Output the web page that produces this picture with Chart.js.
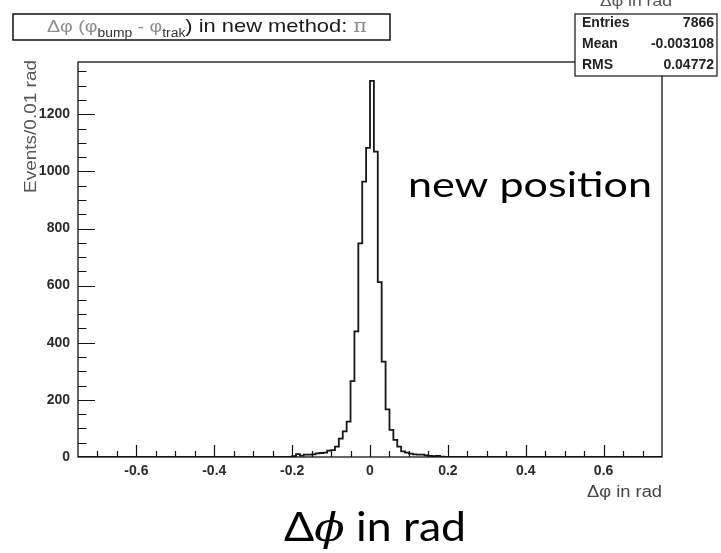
<!DOCTYPE html>
<html>
<head>
<meta charset="utf-8">
<script src="https://cdn.jsdelivr.net/npm/chart.js@4.4.1/dist/chart.umd.min.js"></script>
<style>
  html, body { margin: 0; padding: 0; background: #ffffff; }
  #wrap { width: 721px; height: 553px; position: relative; }
  canvas { display: block; }
</style>
</head>
<body>
<div id="wrap"><canvas id="c" width="721" height="553"></canvas></div>
<script>
// Δφ = φ_bump − φ_trak, 0.01 rad bins; counts start at the bin [-0.20, -0.19)
const binWidth = 0.01;
const firstBinLow = -0.20;
const counts = [3, 10, 5, 8, 8, 9, 13, 14, 15, 22,
                24, 36, 64, 90, 124, 266, 440, 748, 964, 1082,
                1317, 1069, 612, 334, 167, 95, 60, 36, 20, 15,
                12, 9, 8, 8, 6, 4, 3, 4, 1];

// axis ranges
const xRange = [-0.75, 0.75];
const yRange = [0, 1383];

// tick labels
const xTickValues = [-0.6, -0.4, -0.2, 0, 0.2, 0.4, 0.6];
const xTickLabels = ['-0.6', '-0.4', '-0.2', '0', '0.2', '0.4', '0.6'];
const yTickValues = [0, 200, 400, 600, 800, 1000, 1200];
const yTickLabels = ['0', '200', '400', '600', '800', '1000', '1200'];

// statistics box
const statNames = ['Entries', 'Mean', 'RMS'];
const statValues = ['7866', '-0.003108', '0.04772'];

// texts
const histTitle = 'Δφ in rad';
const yTitle = 'Events/0.01 rad';
const xTitle = 'Δφ in rad';
const noteText = 'new position';

// outline points: each bin's lower edge carries its content
const points = [{ x: xRange[0], y: 0 }];
counts.forEach((c, i) => points.push({ x: +(firstBinLow + i * binWidth).toFixed(2), y: c }));
points.push({ x: +(firstBinLow + counts.length * binWidth).toFixed(2), y: 0 });
points.push({ x: xRange[1], y: 0 });

// text helper: draws a string squeezed/stretched horizontally to a given width
function fitText(ctx, text, x, y, font, color, width, align, rotate) {
  ctx.save();
  ctx.font = font;
  ctx.fillStyle = color;
  ctx.textBaseline = 'alphabetic';
  const w = ctx.measureText(text).width;
  const sx = width ? width / w : 1;
  ctx.translate(x, y);
  if (rotate) ctx.rotate(rotate);
  ctx.scale(sx, 1);
  ctx.textAlign = align || 'left';
  ctx.fillText(text, 0, 0);
  ctx.restore();
}

function drawRuns(ctx, runs, x, y, width) {
  ctx.save();
  let total = 0;
  runs.forEach(r => { ctx.font = r.font; r.w = ctx.measureText(r.t).width; total += r.w; });
  const sx = width / total;
  ctx.translate(x, y);
  ctx.scale(sx, 1);
  let cx = 0;
  ctx.textBaseline = 'alphabetic';
  ctx.textAlign = 'left';
  runs.forEach(r => {
    ctx.font = r.font;
    ctx.fillStyle = r.color;
    ctx.fillText(r.t, cx, r.dy || 0);
    cx += r.w;
  });
  ctx.restore();
}

const rootDecor = {
  id: 'rootDecor',
  afterDraw(chart) {
    const { ctx, chartArea: a, scales: { x, y } } = chart;
    ctx.save();

    // frame
    ctx.strokeStyle = '#111';
    ctx.lineWidth = 1.3;
    ctx.strokeRect(a.left, a.top, a.right - a.left, a.bottom - a.top);

    // inward ticks on x axis: every 0.05, long every 0.2
    ctx.lineWidth = 1.2;
    ctx.beginPath();
    for (let k = -14; k <= 14; k++) {
      const px = Math.round(x.getPixelForValue(k * 0.05)) + 0.5;
      const len = (k % 4 === 0) ? 12 : 6;
      ctx.moveTo(px, a.bottom);
      ctx.lineTo(px, a.bottom - len);
    }
    // inward ticks on y axis: every 50, long every 200
    for (let v = 50; v <= 1350; v += 50) {
      const py = Math.round(y.getPixelForValue(v)) + 0.5;
      const len = (v % 200 === 0) ? 17 : 8.5;
      ctx.moveTo(a.left, py);
      ctx.lineTo(a.left + len, py);
    }
    ctx.stroke();

    // axis titles
    fitText(ctx, xTitle, a.right, 497, '16px "Liberation Sans"', '#444', 75, 'right');
    fitText(ctx, yTitle, 36, 60, '16px "Liberation Sans"', '#555', 133, 'right', -Math.PI / 2);

    // title box
    ctx.fillStyle = '#fff';
    ctx.fillRect(13, 14, 377, 26);
    ctx.strokeStyle = '#111';
    ctx.lineWidth = 1.5;
    ctx.strokeRect(13, 14, 377, 26);
    const gray = '#8c8c8c', dark = '#1a1a1a';
    drawRuns(ctx, [
      { t: 'Δφ (φ', font: '17px "Liberation Sans"', color: gray },
      { t: 'bump', font: '12px "Liberation Sans"', color: '#333', dy: 5 },
      { t: ' - φ', font: '17px "Liberation Sans"', color: gray },
      { t: 'trak', font: '12px "Liberation Sans"', color: '#333', dy: 5 },
      { t: ')', font: '19px "Liberation Sans"', color: dark },
      { t: ' in new method: ', font: '19px "Liberation Sans"', color: dark },
      { t: 'π', font: '18px "DejaVu Serif"', color: gray }
    ], 47, 32, 320);

    // statistics box with the histogram title above it
    fitText(ctx, histTitle, 636, 6, '15px "Liberation Sans"', '#555', 72, 'center');
    ctx.fillStyle = '#fff';
    ctx.fillRect(575, 14, 142, 62);
    ctx.strokeStyle = '#111';
    ctx.lineWidth = 1.2;
    ctx.strokeRect(575, 14, 142, 62);
    ctx.font = 'bold 14px "Liberation Sans"';
    ctx.fillStyle = '#222';
    statNames.forEach((n, i) => {
      const by = 27 + i * 21;
      ctx.textAlign = 'left';
      ctx.fillText(n, 582, by);
      ctx.textAlign = 'right';
      ctx.fillText(statValues[i], 714, by);
    });

    // annotations
    fitText(ctx, noteText, 408, 197, '34px Lato', '#000', 244, 'left');
    ctx.restore();

    // big axis caption: Δϕ in rad
    ctx.save();
    const parts = [
      { t: 'Δ', font: '40px Lato' },
      { t: 'ϕ', font: 'italic 40px "DejaVu Serif"' },
      { t: ' in rad', font: '40px Lato' }
    ];
    drawRuns(ctx, parts.map(p => ({ ...p, color: '#000' })), 284, 541, 182);
    ctx.restore();
  }
};

new Chart(document.getElementById('c'), {
  type: 'line',
  data: {
    datasets: [{
      data: points,
      stepped: 'before',
      borderColor: '#161616',
      borderWidth: 1.8,
      pointRadius: 0,
      fill: false,
      tension: 0
    }]
  },
  options: {
    responsive: false,
    animation: false,
    devicePixelRatio: 1,
    layout: { padding: { top: 62, right: 59, left: 0, bottom: 0 } },
    plugins: { legend: { display: false }, tooltip: { enabled: false }, title: { display: false } },
    scales: {
      x: {
        type: 'linear',
        min: xRange[0],
        max: xRange[1],
        bounds: 'data',
        grid: { display: false, drawTicks: false },
        border: { display: false },
        afterBuildTicks: s => { s.ticks = xTickValues.map(v => ({ value: v })); },
        afterFit: s => { s.height = 96; },
        ticks: {
          autoSkip: false, maxRotation: 0, minRotation: 0, padding: 6,
          font: { family: 'Liberation Sans', size: 14, weight: 'bold' },
          color: '#2a2a2a',
          callback: (v, i) => xTickLabels[i]
        }
      },
      y: {
        type: 'linear',
        min: yRange[0],
        max: yRange[1],
        bounds: 'data',
        grid: { display: false, drawTicks: false },
        border: { display: false },
        afterBuildTicks: s => { s.ticks = yTickValues.map(v => ({ value: v })); },
        afterFit: s => { s.width = 78; },
        ticks: {
          autoSkip: false, padding: 8,
          font: { family: 'Liberation Sans', size: 14, weight: 'bold' },
          color: '#2a2a2a',
          callback: (v, i) => yTickLabels[i]
        }
      }
    }
  },
  plugins: [rootDecor]
});
</script>
</body>
</html>
